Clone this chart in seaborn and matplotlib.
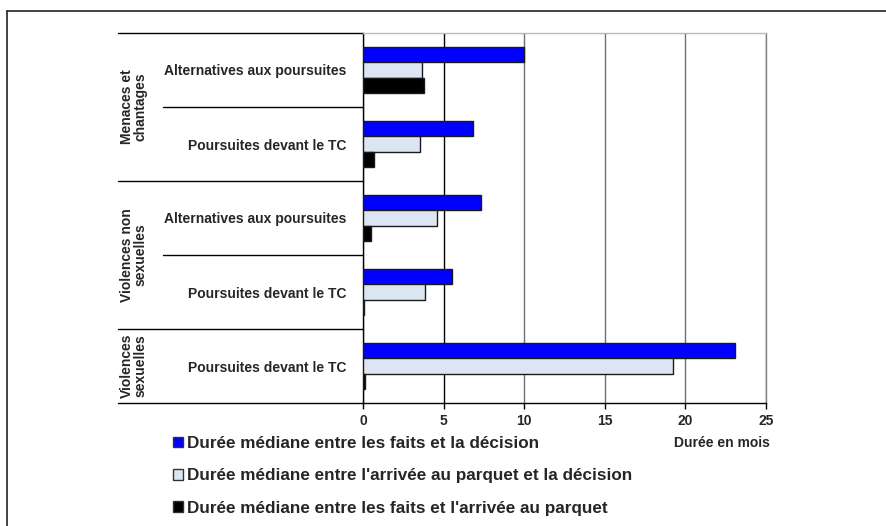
import matplotlib
matplotlib.use("Agg")
import matplotlib.pyplot as plt
import seaborn as sns
import pandas as pd
from matplotlib.patches import Patch
from matplotlib.lines import Line2D

# Categories (top to bottom)
group_labels = ["Menaces et\nchantages", "Violences non\nsexuelles", "Violences\nsexuelles"]
group_rows = [2, 2, 1]
row_labels = ["Alternatives aux poursuites", "Poursuites devant le TC",
              "Alternatives aux poursuites", "Poursuites devant le TC",
              "Poursuites devant le TC"]

# Median durations in months
faits_decision = [10.0, 6.8, 7.3, 5.5, 23.1]
parquet_decision = [3.65, 3.55, 4.6, 3.85, 19.2]
faits_parquet = [3.8, 0.7, 0.5, 0.06, 0.12]

series_names = ["Durée médiane entre les faits et la décision",
                "Durée médiane entre l'arrivée au parquet et la décision",
                "Durée médiane entre les faits et l'arrivée au parquet"]
series_colors = ["#0000FF", "#DCE6F2", "#000000"]
x_ticks = [0, 5, 10, 15, 20, 25]
x_title = "Durée en mois"

sns.set_theme(style="white")
plt.rcParams["font.family"] = ["Liberation Sans", "DejaVu Sans"]
plt.rcParams["font.weight"] = "bold"

keys = [f"r{i}" for i in range(len(row_labels))]
records = []
for name, vals in zip(series_names, [faits_decision, parquet_decision, faits_parquet]):
    for k, v in zip(keys, vals):
        records.append({"ligne": k, "serie": name, "duree": v})
df = pd.DataFrame(records)

W, H = 886, 526
fig = plt.figure(figsize=(W / 100, H / 100), dpi=100)
ax = fig.add_axes([363 / W, 1 - 403 / H, (766 - 363) / W, (403 - 33) / H])

sns.barplot(data=df, y="ligne", x="duree", hue="serie", order=keys,
            hue_order=series_names, palette=series_colors, orient="h",
            width=0.62, edgecolor="#1a1a1a", linewidth=1.0, ax=ax,
            saturation=1, legend=False, errorbar=None, zorder=3)

ax.set_xlim(0, 25)
ax.set_ylim(len(keys) - 0.5, -0.5)
ax.set_xticks(x_ticks)
ax.set_xticklabels([str(t) for t in x_ticks], fontsize=10, fontweight="bold")
ax.set_yticks(range(len(keys)))
ax.set_yticklabels(row_labels, fontsize=10, fontweight="bold")
ax.tick_params(axis="y", length=0, pad=12)
ax.tick_params(axis="x", length=4, width=1, color="black", direction="out",
               pad=4, bottom=True)
ax.set_xlabel("")
ax.set_ylabel("")

# Vertical gridlines
ax.xaxis.grid(True, zorder=0)
for t, gl in zip(x_ticks, ax.get_xgridlines()):
    gl.set_color("#000000" if t == 5 else "#707070")
    gl.set_linewidth(1.0)
ax.set_axisbelow(True)

ax.spines["left"].set_color("black")
ax.spines["left"].set_linewidth(1.0)
ax.spines["bottom"].set_color("black")
ax.spines["bottom"].set_linewidth(1.0)
ax.spines["top"].set_color("#b8b8b8")
ax.spines["top"].set_linewidth(1.0)
ax.spines["right"].set_color("#808080")
ax.spines["right"].set_linewidth(1.0)

# Separator lines to the left of the plot
trans = ax.get_yaxis_transform()
x_group = (118 - 363) / (766 - 363)
x_sub = (163 - 363) / (766 - 363)
boundaries = [-0.5]
acc = 0
for n in group_rows:
    acc += n
    boundaries.append(acc - 0.5)
for b in boundaries:
    ax.add_line(Line2D([x_group, 0], [b, b], transform=trans, color="black",
                       linewidth=1.0, clip_on=False))
start = 0
for n in group_rows:
    for j in range(1, n):
        b = start + j - 0.5
        ax.add_line(Line2D([x_sub, 0], [b, b], transform=trans, color="black",
                           linewidth=1.0, clip_on=False))
    start += n

# Group labels (rotated)
start = 0
x_glabel = (134 - 363) / (766 - 363)
for lab, n in zip(group_labels, group_rows):
    center = start + n / 2 - 0.5
    ax.text(x_glabel, center, lab, transform=trans, rotation=90,
            ha="center", va="center", fontsize=10, fontweight="bold",
            linespacing=1.0, multialignment="center")
    start += n

# Axis title
fig.text(722 / W, 1 - 443 / H, x_title, ha="center", va="center",
         fontsize=10, fontweight="bold")

# Legend
handles = [Patch(facecolor=c, edgecolor="#333333", linewidth=1.0) for c in series_colors]
fig.legend(handles, series_names, loc="upper left",
           bbox_to_anchor=(173 / W, 1 - 436 / H), frameon=False,
           handlelength=0.6, handleheight=0.6,
           handletextpad=0.2, labelspacing=1.02, borderpad=0, borderaxespad=0,
           prop={"weight": "bold", "size": 12.3})

# Outer frame (cut at right and bottom)
fig.add_artist(Line2D([7 / W, 7 / W], [0, 1 - 11 / H], transform=fig.transFigure,
                      color="#222222", linewidth=1.2))
fig.add_artist(Line2D([7 / W, 1], [1 - 11 / H, 1 - 11 / H], transform=fig.transFigure,
                      color="#222222", linewidth=1.2))

fig.savefig("out.png", dpi=100, facecolor="white")
